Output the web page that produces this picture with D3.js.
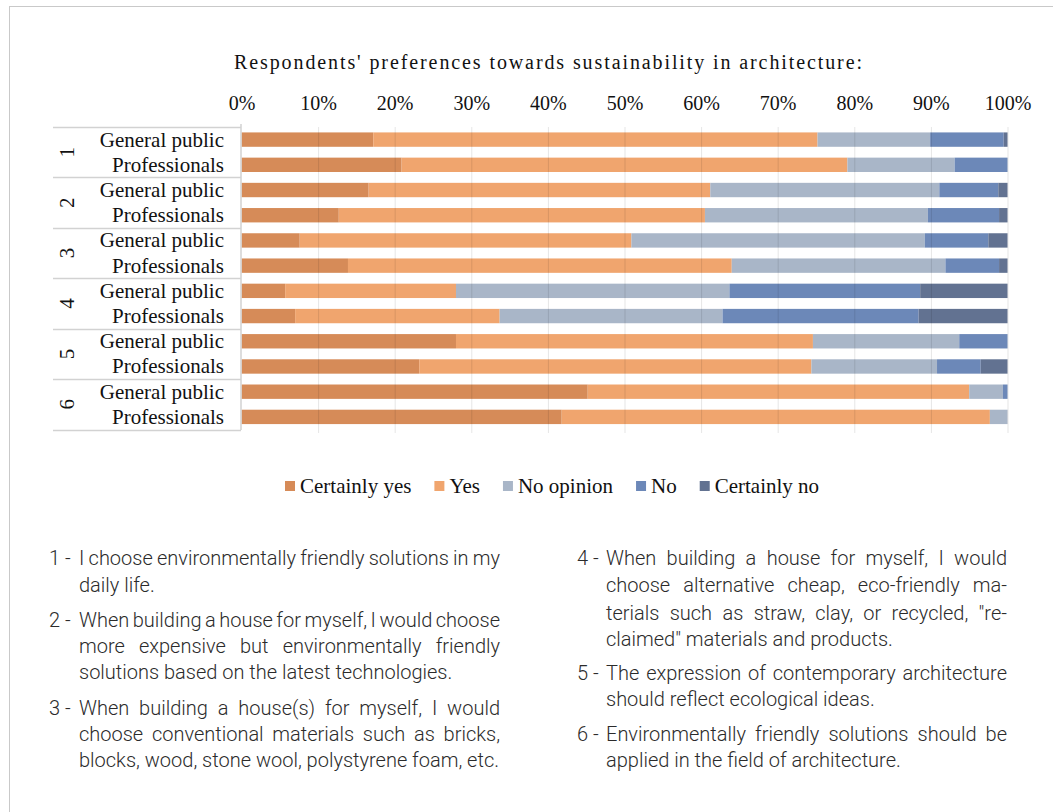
<!DOCTYPE html>
<html>
<head>
<meta charset="utf-8">
<script src="https://cdn.jsdelivr.net/npm/d3@7"></script>
<style>
  body { margin: 0; background: #fff; }
  svg { display: block; }
</style>
</head>
<body>
<script>
// ---- data (percent) ----
const questions = ["1", "2", "3", "4", "5", "6"];
const groups = ["General public", "Professionals"];
const answers = ["Certainly yes", "Yes", "No opinion", "No", "Certainly no"];
const colors = ["#d68b58", "#f0a56e", "#a9b6c8", "#6c88b8", "#627291"];
// one value per row: q1 GP, q1 Prof, q2 GP, q2 Prof, ...
const certainlyYes = [17.2, 20.9, 16.6, 12.7, 7.6, 13.9, 5.7, 7.0, 28.0, 23.2, 45.2, 41.8];
const yes          = [58.0, 58.2, 44.6, 47.8, 43.3, 50.1, 22.3, 26.7, 46.6, 51.2, 49.8, 55.9];
const noOpinion    = [14.7, 14.0, 29.9, 29.1, 38.3, 27.9, 35.7, 29.1, 19.1, 16.4, 4.4, 2.3];
const no           = [9.6, 6.9, 7.7, 9.3, 8.3, 7.0, 24.9, 25.6, 6.3, 5.7, 0.6, 0];
const certainlyNo  = [0.5, 0, 1.2, 1.1, 2.5, 1.1, 11.4, 11.6, 0, 3.5, 0, 0];
const tickValues = [0, 0.1, 0.2, 0.3, 0.4, 0.5, 0.6, 0.7, 0.8, 0.9, 1];
const title = "Respondents' preferences towards sustainability in architecture:";

const notesLeft = [
  { num: "1", lines: [["I choose environmentally friendly solutions in my", true], ["daily life.", false]] },
  { num: "2", lines: [["When building a house for myself, I would choose", true], ["more expensive but environmentally friendly", true], ["solutions based on the latest technologies.", false]] },
  { num: "3", lines: [["When building a house(s) for myself, I would", true], ["choose conventional materials such as bricks,", true], ["blocks, wood, stone wool, polystyrene foam, etc.", false]] }
];
const notesRight = [
  { num: "4", lines: [["When building a house for myself, I would", true], ["choose alternative cheap, eco-friendly ma-", true], ["terials such as straw, clay, or recycled, \"re-", true], ["claimed\" materials and products.", false]] },
  { num: "5", lines: [["The expression of contemporary architecture", true], ["should reflect ecological ideas.", false]] },
  { num: "6", lines: [["Environmentally friendly solutions should be", true], ["applied in the field of architecture.", false]] }
];

const rows = [];
questions.forEach((q, qi) => {
  groups.forEach((g, gi) => {
    const i = qi * 2 + gi;
    rows.push({
      id: q + "|" + g, q: q, g: g,
      "Certainly yes": certainlyYes[i] / 100,
      "Yes": yes[i] / 100,
      "No opinion": noOpinion[i] / 100,
      "No": no[i] / 100,
      "Certainly no": certainlyNo[i] / 100
    });
  });
});

// ---- layout ----
const W = 1053, H = 812;
const serif = "'Liberation Serif', 'Times New Roman', serif";
const sans = "Roboto, 'Noto Sans', sans-serif";

const svg = d3.select("body").append("svg")
  .attr("width", W)
  .attr("height", H);

svg.append("rect")
  .attr("x", 9.5).attr("y", 6.5)
  .attr("width", W + 20).attr("height", H + 20)
  .attr("fill", "#fff")
  .attr("stroke", "#c9c9c9");

const x = d3.scaleLinear().domain([0, 1]).range([241.5, 1007.5]);
const y = d3.scaleBand()
  .domain(rows.map(d => d.id))
  .range([127, 429.5])
  .paddingInner(0.43)
  .paddingOuter(0.215);

const stack = d3.stack().keys(answers);
const series = stack(rows);
const color = d3.scaleOrdinal().domain(answers).range(colors);

// title
svg.append("text")
  .attr("x", 548).attr("y", 69)
  .attr("text-anchor", "middle")
  .attr("font-family", serif)
  .attr("font-size", 20)
  .attr("textLength", 628)
  .attr("lengthAdjust", "spacing")
  .attr("fill", "#111")
  .text(title);

// bars
svg.append("g").selectAll("g")
  .data(series)
  .join("g")
  .attr("fill", d => color(d.key))
  .selectAll("rect")
  .data(d => d)
  .join("rect")
  .attr("x", d => x(d[0]))
  .attr("y", d => y(d.data.id))
  .attr("width", d => Math.max(0, x(d[1]) - x(d[0])))
  .attr("height", y.bandwidth());

// gridlines (drawn over the bars, faint)
svg.append("g").selectAll("line")
  .data(tickValues.slice(1))
  .join("line")
  .attr("x1", d => x(d) + 0.5).attr("x2", d => x(d) + 0.5)
  .attr("y1", 127).attr("y2", 433)
  .attr("stroke", "#000")
  .attr("stroke-opacity", 0.1);

// top axis
const axis = svg.append("g")
  .attr("transform", "translate(0,110)")
  .call(d3.axisTop(x).tickValues(tickValues).tickFormat(d3.format(".0%")).tickSize(0).tickPadding(0));
axis.select(".domain").remove();
axis.selectAll("text")
  .attr("font-family", serif)
  .attr("font-size", 20)
  .attr("fill", "#111")
  .attr("dy", 0);

// category table
const table = svg.append("g");
const groupEdges = questions.map((q, qi) => y(rows[qi * 2].id) - y.step() * y.paddingOuter());
groupEdges.push(429.5);
table.selectAll("line.h")
  .data(groupEdges)
  .join("line")
  .attr("class", "h")
  .attr("x1", 53).attr("x2", 241)
  .attr("y1", d => Math.round(d) + 0.5).attr("y2", d => Math.round(d) + 0.5)
  .attr("stroke", "#d2d2d2").attr("stroke-width", 1.5);
table.append("line")
  .attr("x1", 241).attr("x2", 241)
  .attr("y1", 124).attr("y2", 430)
  .attr("stroke", "#d2d2d2").attr("stroke-width", 1.5);

table.selectAll("text.cat")
  .data(rows)
  .join("text")
  .attr("class", "cat")
  .attr("x", 224)
  .attr("y", d => y(d.id) + y.bandwidth() / 2 + 7)
  .attr("text-anchor", "end")
  .attr("font-family", serif)
  .attr("font-size", 21)
  .attr("fill", "#111")
  .text(d => d.g);

table.selectAll("text.q")
  .data(questions)
  .join("text")
  .attr("class", "q")
  .attr("transform", (q, qi) => {
    const cy = (y(rows[qi * 2].id) + y(rows[qi * 2 + 1].id) + y.bandwidth()) / 2;
    return `translate(74,${cy}) rotate(-90)`;
  })
  .attr("text-anchor", "middle")
  .attr("font-family", serif)
  .attr("font-size", 21)
  .attr("fill", "#111")
  .text(d => d);

// legend
const legend = svg.append("g");
let lx = 285;
answers.forEach((a, i) => {
  legend.append("rect")
    .attr("x", lx).attr("y", 481)
    .attr("width", 10).attr("height", 10)
    .attr("fill", colors[i]);
  const t = legend.append("text")
    .attr("x", lx + 15).attr("y", 493)
    .attr("font-family", serif)
    .attr("font-size", 21)
    .attr("fill", "#111")
    .text(a);
  lx += 15 + t.node().getComputedTextLength() + 23;
});

// footnotes
function drawNotes(notes, numX, textX, right, baselines) {
  const g = svg.append("g")
    .attr("font-family", sans)
    .attr("font-weight", 300)
    .attr("font-size", 20)
    .attr("fill", "#2b2b2b");
  let k = 0;
  notes.forEach(n => {
    g.append("text").attr("x", numX).attr("y", baselines[k]).text(n.num + " -");
    n.lines.forEach(([line, just]) => {
      const t = g.append("text").attr("x", textX).attr("y", baselines[k]).text(line);
      if (just) {
        const natural = t.node().getComputedTextLength();
        const spaces = (line.match(/ /g) || []).length;
        if (spaces > 0) t.attr("word-spacing", (right - textX - natural) / spaces);
      }
      k++;
    });
  });
}
drawNotes(notesLeft, 49, 79, 500, [565, 592, 627, 653, 679, 715, 741, 767]);
drawNotes(notesRight, 577, 606, 1007, [565, 592, 620, 646, 680, 706, 741, 767]);
</script>
</body>
</html>
